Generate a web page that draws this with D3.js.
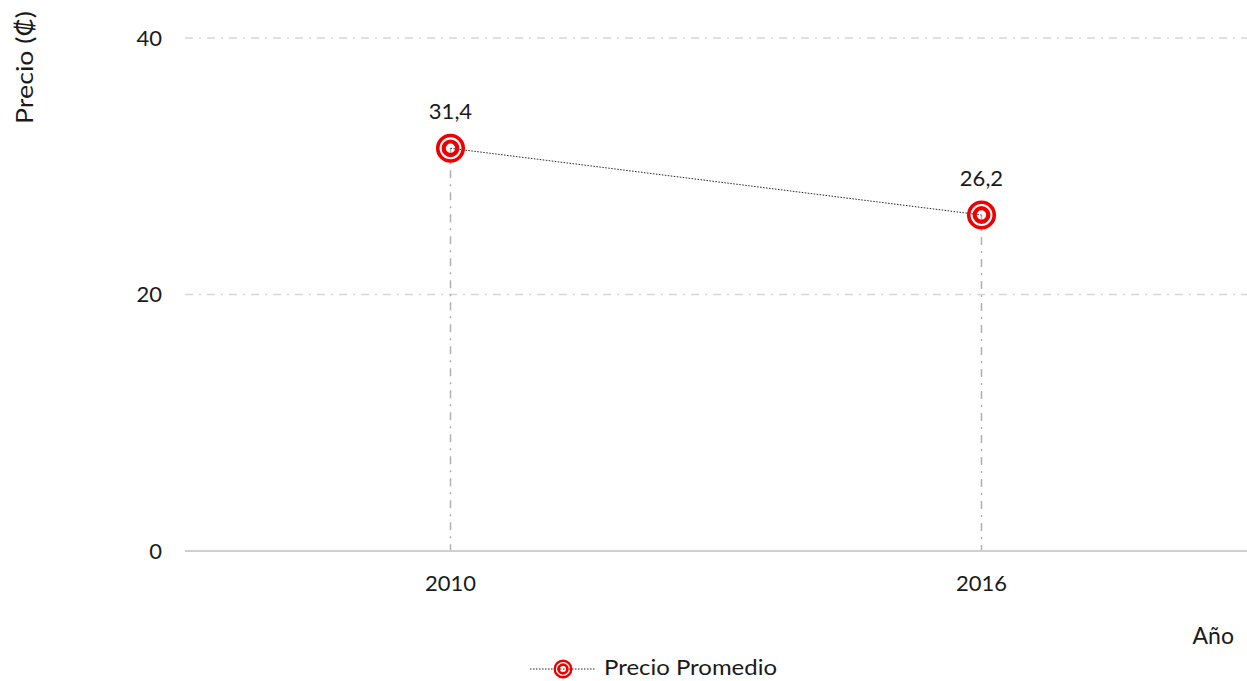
<!DOCTYPE html>
<html><head><meta charset="utf-8">
<script src="https://cdn.jsdelivr.net/npm/d3@7"></script>
<style>body{margin:0;background:#fff;} svg{display:block;} text{font-family:"Lato","Open Sans",sans-serif;fill:#1a1a1a;}</style>
</head><body>
<svg id="c" width="1247" height="681"></svg>
<script>
const categories = ["2010", "2016"];
const values = [31.4, 26.2];
const labels = ["31,4", "26,2"];
const yTicks = [0, 20, 40];
const seriesName = "Precio Promedio";
const yTitle = "Precio (₡)";
const xTitle = "Año";

const svg = d3.select("#c");
const m = {l:185, r:0, t:38, b:130};
const W = 1247, H = 681;
const x = d3.scaleBand().domain(categories).range([m.l, W - m.r]).padding(0);
const y = d3.scaleLinear().domain([0, 40]).range([551, 38]);
const cx = d => x(d) + x.bandwidth()/2;

// horizontal grid
svg.append("g").selectAll("line").data(yTicks.filter(t=>t>0)).join("line")
  .attr("x1", m.l).attr("x2", W).attr("y1", d=>y(d)).attr("y2", d=>y(d))
  .attr("stroke", "#d6d6d6").attr("stroke-width", 1.5).attr("stroke-dasharray", "8,6,2,6");
// vertical grid at categories
svg.append("g").selectAll("line").data(categories).join("line")
  .attr("x1", d=>cx(d)).attr("x2", d=>cx(d))
  .attr("y1", (d,i)=>y(values[i])).attr("y2", y(0))
  .attr("stroke", "#b0b0b0").attr("stroke-width", 1.5).attr("stroke-dasharray", "8,6,2,6");
// x axis line
svg.append("line").attr("x1", m.l).attr("x2", W).attr("y1", y(0)).attr("y2", y(0))
  .attr("stroke", "#cfcfcf").attr("stroke-width", 2);

// y tick labels
svg.append("g").selectAll("text").data(yTicks).join("text")
  .attr("x", 162).attr("y", d=>y(d)).attr("dy", "0.35em").attr("text-anchor", "end")
  .attr("font-size", 22).text(d=>d);
// x tick labels
svg.append("g").selectAll("text").data(categories).join("text")
  .attr("x", d=>cx(d)).attr("y", 583).attr("dy", "0.35em").attr("text-anchor", "middle")
  .attr("font-size", 22).text(d=>d);

// titles
svg.append("text").attr("transform", "translate(33,11) rotate(-90)").attr("text-anchor", "end")
  .attr("font-size", 24).attr("textLength", 113).attr("lengthAdjust","spacingAndGlyphs").text(yTitle);
svg.append("text").attr("x", 1234).attr("y", 636).attr("dy","0.35em").attr("text-anchor", "end")
  .attr("font-size", 23).text(xTitle);

// line
const line = d3.line().x((d,i)=>cx(categories[i])).y(d=>y(d));
svg.append("path").datum(values).attr("d", line).attr("fill","none")
  .attr("stroke", "#222").attr("stroke-width", 1).attr("stroke-dasharray", "1.5,1.5");

function marker(g, px, py, s) {
  g.append("circle").attr("cx", px).attr("cy", py).attr("r", 12.75*s).attr("fill","none").attr("stroke","#ee0000").attr("stroke-width", 3.6*s);
  g.append("circle").attr("cx", px).attr("cy", py).attr("r", 6.8*s).attr("fill","none").attr("stroke","#ee0000").attr("stroke-width", 4.2*s);
}
const mg = svg.append("g");
values.forEach((v,i)=>marker(mg, cx(categories[i]), y(v), 1));

// data labels
svg.append("g").selectAll("text").data(values).join("text")
  .attr("x", (d,i)=>cx(categories[i])).attr("y", d=>y(d)-37).attr("dy","0.35em").attr("text-anchor","middle")
  .attr("font-size", 22).text((d,i)=>labels[i]);

// legend
const lg = svg.append("g");
lg.append("line").attr("x1", 530).attr("x2", 596).attr("y1", 669).attr("y2", 669)
  .attr("stroke", "#222").attr("stroke-width", 1).attr("stroke-dasharray", "1.5,1.5");
marker(lg, 563, 669, 0.65);
lg.append("text").attr("x", 604).attr("y", 668).attr("dy","0.35em").attr("font-size", 21)
  .attr("textLength", 173).attr("lengthAdjust","spacingAndGlyphs").text(seriesName);
</script>
</body></html>
